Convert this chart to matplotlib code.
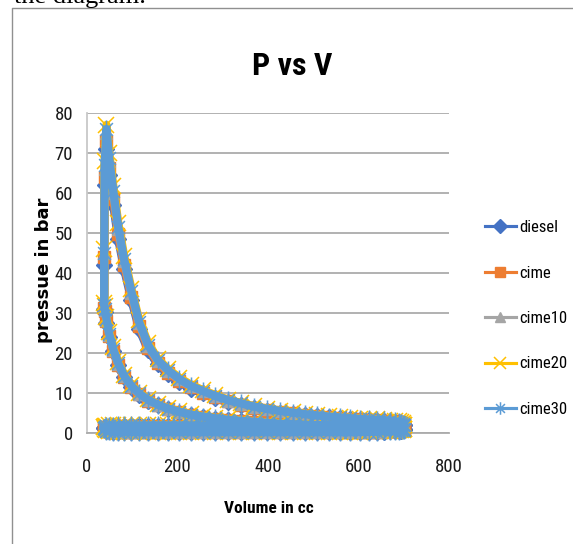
import os
import matplotlib
matplotlib.use("Agg")
import matplotlib.pyplot as plt
import matplotlib.font_manager as fm
from matplotlib.path import Path
from matplotlib.lines import Line2D

# ---------------- data ----------------
x_ticks = [0, 200, 400, 600, 800]
y_ticks = [0, 10, 20, 30, 40, 50, 60, 70, 80]
series_names = ["diesel", "cime", "cime10", "cime20", "cime30"]

# cylinder volume (cc) over one stroke, TDC -> BDC
volume_stroke = [38, 39, 43, 49, 58, 69, 82, 98, 115, 135, 156, 179, 204, 229, 256,
                 283, 312, 340, 369, 398, 427, 455, 482, 509, 535, 559, 582, 603,
                 623, 640, 656, 669, 680, 689, 695, 699, 700]
# full cycle: intake (up), compression (down), expansion (up), exhaust (down)
volume = volume_stroke + volume_stroke[::-1] + volume_stroke + volume_stroke[::-1]

# pressures (bar) : intake / compression / expansion / exhaust
p_diesel = (
    [1.2, 0.9, 0.6, 0.4, 0.3, 0.2, 0.2, 0.2, 0.2, 0.2, 0.2, 0.2, 0.2, 0.2, 0.2, 0.2, 0.2, 0.2, 0.2,
     0.2, 0.2, 0.2, 0.2, 0.2, 0.2, 0.2, 0.2, 0.2, 0.3, 0.3, 0.3, 0.4, 0.5, 0.6, 0.6, 0.7, 0.8]
    + [0.9, 1.1, 1.3, 1.3, 1.4, 1.4, 1.4, 1.5, 1.5, 1.6, 1.6, 1.7, 1.8, 1.9, 2.0, 2.1, 2.3, 2.4, 2.7,
       2.9, 3.2, 3.6, 4.0, 4.5, 5.1, 5.9, 6.9, 8.0, 9.6, 11.5, 13.9, 16.9, 20.4, 24.1, 27.6, 30.2, 31.0]
    + [42, 62, 71, 64.5, 57, 48.5, 41, 33.3, 26.1, 20.7, 17.2, 14.7, 12.7, 11.1, 9.9, 8.7, 7.7, 6.9, 6.2,
       5.6, 5.1, 4.8, 4.5, 4.2, 3.9, 3.7, 3.5, 3.3, 3.2, 3.1, 3.0, 2.9, 2.8, 2.7, 2.5, 2.2, 1.9]
    + [1.9, 1.8, 1.8, 1.8, 1.8, 1.8, 1.8, 1.8, 1.8, 1.8, 1.8, 1.8, 1.8, 1.8, 1.8, 1.8, 1.8, 1.8, 1.8,
       1.8, 1.8, 1.8, 1.8, 1.8, 1.8, 1.8, 1.8, 1.8, 1.8, 1.8, 1.8, 1.8, 1.7, 1.7, 1.6, 1.5, 1.3]
)
p_cime = (
    [1.2, 0.9, 0.6, 0.4, 0.3, 0.2, 0.2, 0.2, 0.2, 0.2, 0.2, 0.2, 0.2, 0.2, 0.2, 0.2, 0.2, 0.2, 0.2,
     0.2, 0.2, 0.2, 0.2, 0.2, 0.2, 0.2, 0.2, 0.3, 0.3, 0.3, 0.4, 0.4, 0.5, 0.6, 0.7, 0.7, 0.8]
    + [0.9, 1.1, 1.3, 1.4, 1.4, 1.4, 1.4, 1.5, 1.5, 1.6, 1.6, 1.7, 1.8, 1.9, 2.0, 2.1, 2.3, 2.5, 2.7,
       2.9, 3.2, 3.6, 4.0, 4.5, 5.2, 6.0, 6.9, 8.1, 9.7, 11.6, 14.0, 17.0, 20.6, 24.3, 27.9, 30.5, 31.3]
    + [44, 64, 73, 66.3, 58.5, 49.7, 41.9, 34.1, 26.8, 21.3, 17.6, 15.1, 13.1, 11.4, 10.1, 9.0, 7.9, 7.1, 6.3,
       5.8, 5.3, 4.9, 4.6, 4.3, 4.0, 3.8, 3.6, 3.4, 3.3, 3.2, 3.1, 3.0, 2.9, 2.8, 2.6, 2.3, 2.0]
    + [1.9, 1.9, 1.8, 1.8, 1.8, 1.8, 1.8, 1.8, 1.8, 1.8, 1.8, 1.8, 1.8, 1.8, 1.8, 1.8, 1.8, 1.8, 1.8,
       1.8, 1.8, 1.8, 1.8, 1.8, 1.8, 1.8, 1.8, 1.8, 1.8, 1.8, 1.8, 1.8, 1.8, 1.7, 1.6, 1.5, 1.3]
)
p_cime10 = (
    [1.2, 0.9, 0.6, 0.4, 0.3, 0.2, 0.2, 0.2, 0.2, 0.2, 0.2, 0.2, 0.2, 0.2, 0.2, 0.2, 0.2, 0.2, 0.2,
     0.2, 0.2, 0.2, 0.2, 0.2, 0.2, 0.2, 0.2, 0.2, 0.3, 0.3, 0.3, 0.4, 0.5, 0.6, 0.6, 0.7, 0.8]
    + [0.9, 1.1, 1.3, 1.4, 1.4, 1.4, 1.5, 1.5, 1.5, 1.6, 1.7, 1.7, 1.8, 1.9, 2.0, 2.2, 2.3, 2.5, 2.7,
       3.0, 3.3, 3.6, 4.1, 4.6, 5.2, 6.0, 7.0, 8.2, 9.8, 11.7, 14.2, 17.2, 20.8, 24.6, 28.2, 30.8, 31.6]
    + [45, 66, 75, 68, 60, 51, 43, 35, 27.5, 21.8, 18.1, 15.5, 13.4, 11.7, 10.4, 9.2, 8.1, 7.3, 6.5,
       5.9, 5.4, 5.0, 4.7, 4.4, 4.1, 3.9, 3.7, 3.5, 3.4, 3.3, 3.2, 3.0, 2.9, 2.8, 2.6, 2.3, 2.0]
    + [1.9, 1.8, 1.8, 1.8, 1.8, 1.8, 1.8, 1.8, 1.8, 1.8, 1.8, 1.8, 1.8, 1.8, 1.8, 1.8, 1.8, 1.8, 1.8,
       1.8, 1.8, 1.8, 1.8, 1.8, 1.8, 1.8, 1.8, 1.8, 1.8, 1.8, 1.8, 1.8, 1.7, 1.7, 1.6, 1.5, 1.3]
)
p_cime20 = (
    [1.4, 1.0, 0.7, 0.5, 0.4, 0.3, 0.3, 0.3, 0.3, 0.3, 0.3, 0.3, 0.3, 0.3, 0.3, 0.3, 0.3, 0.3, 0.3,
     0.3, 0.3, 0.3, 0.3, 0.3, 0.3, 0.3, 0.3, 0.3, 0.4, 0.4, 0.4, 0.5, 0.6, 0.7, 0.8, 0.8, 0.9]
    + [1.0, 1.2, 1.4, 1.4, 1.4, 1.5, 1.5, 1.5, 1.6, 1.6, 1.7, 1.8, 1.9, 2.0, 2.1, 2.2, 2.4, 2.6, 2.8,
       3.1, 3.4, 3.8, 4.2, 4.7, 5.4, 6.2, 7.2, 8.5, 10.1, 12.1, 14.6, 17.7, 21.4, 25.3, 29.0, 31.7, 32.5]
    + [46, 68, 77, 70, 61.8, 52.5, 44.3, 36.1, 28.3, 22.5, 18.6, 16.0, 13.8, 12.1, 10.7, 9.5, 8.3, 7.5, 6.7,
       6.1, 5.6, 5.2, 4.8, 4.5, 4.2, 4.0, 3.8, 3.6, 3.5, 3.4, 3.3, 3.1, 3.0, 2.9, 2.7, 2.4, 2.1]
    + [2.1, 2.0, 2.0, 2.0, 2.0, 2.0, 2.0, 2.0, 2.0, 2.0, 2.0, 2.0, 2.0, 2.0, 2.0, 2.0, 2.0, 2.0, 2.0,
       2.0, 2.0, 2.0, 2.0, 2.0, 2.0, 2.0, 2.0, 2.0, 2.0, 2.0, 2.0, 2.0, 1.9, 1.9, 1.8, 1.7, 1.5]
)
p_cime30 = (
    [1.2, 0.9, 0.6, 0.4, 0.3, 0.2, 0.2, 0.2, 0.2, 0.2, 0.2, 0.2, 0.2, 0.2, 0.2, 0.2, 0.2, 0.2, 0.2,
     0.2, 0.2, 0.2, 0.2, 0.2, 0.2, 0.2, 0.2, 0.3, 0.3, 0.3, 0.4, 0.4, 0.5, 0.6, 0.7, 0.7, 0.8]
    + [0.9, 1.1, 1.3, 1.4, 1.4, 1.4, 1.5, 1.5, 1.6, 1.6, 1.7, 1.7, 1.8, 1.9, 2.1, 2.2, 2.3, 2.5, 2.8,
       3.0, 3.3, 3.7, 4.1, 4.6, 5.3, 6.1, 7.1, 8.3, 9.9, 11.8, 14.3, 17.4, 21.0, 24.8, 28.5, 31.1, 31.9]
    + [45, 67, 76, 68.7, 60.6, 51.5, 43.4, 35.4, 27.8, 22.0, 18.3, 15.7, 13.5, 11.8, 10.5, 9.3, 8.2, 7.4, 6.6,
       6.0, 5.5, 5.1, 4.7, 4.4, 4.1, 3.9, 3.7, 3.5, 3.4, 3.3, 3.2, 3.0, 2.9, 2.8, 2.6, 2.3, 2.0]
    + [2.0, 1.9, 1.9, 1.9, 1.9, 1.9, 1.9, 1.9, 1.9, 1.9, 1.9, 1.9, 1.9, 1.9, 1.9, 1.9, 1.9, 1.9, 1.9,
       1.9, 1.9, 1.9, 1.9, 1.9, 1.9, 1.9, 1.9, 1.9, 1.9, 1.9, 1.9, 1.9, 1.8, 1.8, 1.7, 1.5, 1.3]
)
pressures = [p_diesel, p_cime, p_cime10, p_cime20, p_cime30]


# ---------------- fonts ----------------
def find_condensed(bold):
    wanted_regular = ["LiberationSansNarrow-Regular", "NotoSans-Condensed.", "NotoSans-SemiCondensed.",
                      "RobotoCondensed-Regular", "OpenSans-CondRegular", "OpenSans_Condensed-Regular",
                      "OpenSans-Condensed-Regular", "DejaVuSansCondensed."]
    wanted_bold = ["LiberationSansNarrow-Bold.", "NotoSans-CondensedBold.", "NotoSans-SemiCondensedBold.",
                   "RobotoCondensed-Bold.", "OpenSans-CondBold", "OpenSans_Condensed-Bold",
                   "OpenSans-Condensed-Bold.", "DejaVuSansCondensed-Bold."]
    files = [f.fname for f in fm.fontManager.ttflist]
    for w in (wanted_bold if bold else wanted_regular):
        for fn in files:
            if os.path.basename(fn).startswith(w.rstrip(".")) and (
                    not w.endswith(".") or os.path.basename(fn).startswith(w)):
                return fn
    return None


reg_file = find_condensed(False)
bold_file = find_condensed(True)
condensed = reg_file is not None and "DejaVu" not in reg_file
if condensed:
    FP_REG = fm.FontProperties(fname=reg_file)
    FP_BOLD = fm.FontProperties(fname=bold_file) if bold_file else fm.FontProperties(fname=reg_file, weight="bold")
    S_TICK, S_TITLE, S_XLAB, S_LEG = 13.5, 23, 12.5, 12
else:
    FP_REG = fm.FontProperties(family=["Liberation Sans", "DejaVu Sans"])
    FP_BOLD = fm.FontProperties(family=["Liberation Sans", "DejaVu Sans"], weight="bold")
    S_TICK, S_TITLE, S_XLAB, S_LEG = 12, 21, 12, 11.5


def fp(base, size):
    f = base.copy()
    f.set_size(size)
    return f


# ---------------- style ----------------
colors = ["#4472C4", "#ED7D31", "#A5A5A5", "#FFC000", "#5B9BD5"]
asterisk = Path([(0, -1), (0, 1), (-0.71, -0.71), (0.71, 0.71), (-0.71, 0.71), (0.71, -0.71)],
                [Path.MOVETO, Path.LINETO] * 3)
marker_specs = [
    dict(marker="D", markerfacecolor=colors[0], markeredgecolor=colors[0]),
    dict(marker="s", markerfacecolor=colors[1], markeredgecolor=colors[1]),
    dict(marker="^", markerfacecolor=colors[2], markeredgecolor=colors[2]),
    dict(marker="x", markeredgecolor=colors[3], markeredgewidth=1.1),
    dict(marker=asterisk, markerfacecolor="none", markeredgecolor=colors[4], markeredgewidth=1.1),
]
data_ms = [8, 8, 9, 12, 13]
legend_ms = [7, 6.5, 7, 8, 9]

fig = plt.figure(figsize=(5.73, 5.44), dpi=100)
W, H = 573.0, 544.0
ax = fig.add_axes([87 / W, 111 / H, 362 / W, 320 / H])

for name, p, c, ms, size in zip(series_names, pressures, colors, marker_specs, data_ms):
    ax.plot(volume, p, color=c, lw=6, markersize=size, label=name, clip_on=False,
            zorder=3, solid_joinstyle="round", **ms)

ax.set_xlim(0, 800)
ax.set_ylim(0, 80)
ax.set_xticks(x_ticks)
ax.set_yticks(y_ticks)
ax.yaxis.grid(True, color="#ABABAB", lw=1.3)
ax.set_axisbelow(True)
for s in ["top", "right"]:
    ax.spines[s].set_visible(False)
ax.spines["left"].set_color("#C8C8C8")
ax.spines["left"].set_linewidth(1.3)
ax.spines["bottom"].set_color("#ABABAB")
ax.spines["bottom"].set_linewidth(1.3)
ax.tick_params(axis="both", length=0, colors="#1a1a1a")
ax.tick_params(axis="y", pad=10)
ax.tick_params(axis="x", pad=18)
for lab in ax.get_xticklabels() + ax.get_yticklabels():
    lab.set_fontproperties(fp(FP_REG, S_TICK))

# title and axis titles
fig.text(292 / W, 1 - 75 / H, "P vs V", ha="center", va="baseline",
         fontproperties=fp(FP_BOLD, S_TITLE), color="#000000")
fig.text(269 / W, 1 - 513 / H, "Volume in cc", ha="center", va="baseline",
         fontproperties=fp(FP_BOLD, S_XLAB), color="#000000")
fig.text(44.5 / W, 1 - 270 / H, "pressue in bar", ha="center", va="center", rotation=90,
         fontsize=13, fontweight="bold", family=["DejaVu Sans"], color="#000000")

# legend (handles drawn with the normal 2.25 pt series line)
handles = [Line2D([], [], color=c, lw=2.25, markersize=lm, **ms)
           for c, ms, lm in zip(colors, marker_specs, legend_ms)]
ax.legend(handles=handles, labels=series_names, loc="upper left",
          bbox_to_anchor=(485 / W, 1 - 220 / H), bbox_transform=fig.transFigure,
          frameon=False, handlelength=1.85, handletextpad=0.2, labelspacing=1.83,
          borderpad=0, borderaxespad=0, prop=fp(FP_REG, S_LEG))

# surrounding document fragments: chart border and cut-off text above
fig.add_artist(Line2D([12 / W, 12 / W, 1.0], [0.0, 1 - 8 / H, 1 - 8 / H],
                      transform=fig.transFigure, color="#909090", lw=1.0))
fig.text(14 / W, 1 - 3 / H, "the diagram.", ha="left", va="baseline", fontsize=19,
         family=["Liberation Serif", "DejaVu Serif"], color="#000000")

fig.savefig("out.png", dpi=100)
